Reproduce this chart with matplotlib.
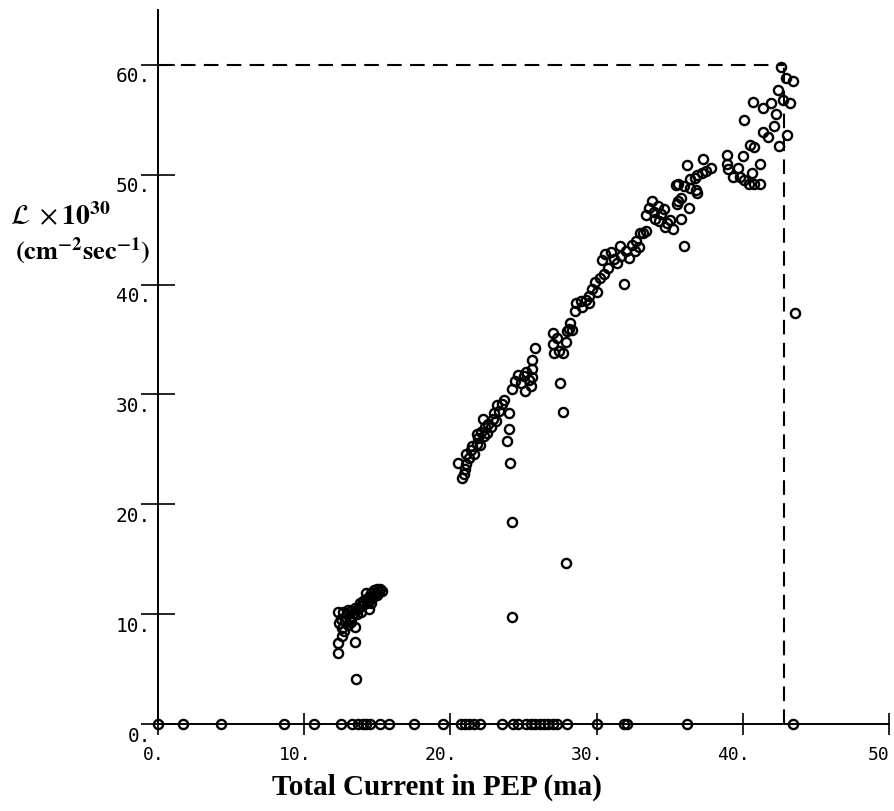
import matplotlib
matplotlib.use("Agg")
import matplotlib.pyplot as plt
import matplotlib.transforms as mtransforms

plt.rcParams['mathtext.fontset'] = 'stix'

# run at ~13-15 ma
low_x = [12.3, 12.65, 12.4, 12.6, 12.5, 12.8, 12.9, 13.0, 13.1, 13.2, 12.7, 13.0, 13.3, 13.4, 13.5,
         13.6, 13.7, 13.8, 13.9, 14.0, 14.1, 14.2, 14.3, 14.4, 14.5, 14.6, 14.7, 14.8, 14.9, 15.0,
         15.1, 15.2, 15.3, 13.5, 12.6, 12.3, 13.5, 12.3, 13.55, 14.2, 14.4, 13.2, 13.9, 14.6, 15.0]
low_y = [10.2, 10.2, 9.2, 8.7, 9.6, 9.4, 10.0, 9.0, 9.6, 10.3, 8.5, 10.4, 9.8, 10.1, 10.6,
         10.0, 10.5, 11.0, 10.7, 11.2, 10.9, 11.4, 11.0, 11.6, 11.3, 11.9, 11.6, 12.2, 11.9, 12.3,
         12.0, 12.3, 12.1, 8.8, 8.0, 7.4, 7.5, 6.5, 4.1, 11.9, 10.5, 9.3, 10.2, 11.0, 11.7]

# run at ~20-30 ma
mid_x = [20.5, 20.8, 20.9, 21.0, 21.1, 21.1, 21.3, 21.4, 21.5, 21.6, 21.8, 21.9, 22.0, 21.8, 22.1,
         22.2, 22.3, 22.4, 22.5, 22.6, 22.8, 22.9, 23.0, 23.1, 23.2, 23.3, 23.5, 23.7, 24.0, 24.0,
         23.9, 24.1, 24.2, 24.2, 24.2, 24.4, 24.6, 24.8, 25.0, 25.1, 25.2, 25.4, 25.6, 25.5, 25.6,
         25.6, 25.8, 27.0, 27.0, 27.1, 27.3, 27.4, 27.7, 27.5, 27.7, 27.9, 27.9, 28.0, 28.1, 28.2,
         28.3, 28.5, 28.6, 28.9, 29.0, 29.3, 29.5, 29.5, 29.7, 29.9, 30.0, 30.2]
mid_y = [23.8, 22.4, 22.8, 23.2, 24.6, 23.7, 24.2, 24.9, 25.3, 24.6, 25.5, 26.0, 25.4, 26.4, 26.6,
         27.8, 26.2, 27.0, 26.5, 27.3, 27.0, 27.8, 28.3, 27.6, 29.0, 28.5, 29.1, 29.5, 28.3, 26.9,
         25.8, 23.8, 18.4, 9.7, 30.5, 31.2, 31.8, 31.0, 31.7, 30.3, 32.0, 31.3, 31.6, 30.8, 33.1,
         32.3, 34.2, 35.6, 34.6, 33.8, 35.1, 34.0, 33.8, 31.0, 28.4, 14.7, 34.8, 35.8, 36.0, 36.5,
         35.9, 37.6, 38.3, 38.5, 38.0, 38.6, 38.3, 39.0, 39.6, 40.2, 39.3, 40.6]

# run at ~30-44 ma
high_x = [30.4, 30.5, 30.6, 30.8, 31.0, 31.2, 31.4, 31.6, 31.7, 31.9, 32.0, 32.2, 32.4, 32.6, 32.7,
          32.9, 33.0, 33.2, 33.4, 33.4, 33.6, 33.8, 33.9, 34.0, 34.2, 34.3, 34.4, 34.6, 34.7, 34.8,
          35.0, 35.2, 35.4, 35.5, 35.6, 35.6, 35.8, 35.8, 36.0, 36.0, 36.2, 36.3, 36.4, 36.4, 36.7,
          36.8, 36.9, 36.9, 37.2, 37.3, 37.5, 37.8, 38.9, 38.9, 39.0, 39.3, 39.7, 39.8, 40.0, 40.1,
          40.1, 40.4, 40.5, 40.6, 40.7, 40.8, 40.8, 41.2, 41.2, 41.4, 41.4, 41.7, 41.9, 42.1, 42.3,
          42.4, 42.5, 42.6, 42.75, 42.95, 43.0, 43.2, 43.4, 43.6]
high_y = [42.2, 41.0, 42.8, 41.5, 43.0, 42.3, 42.0, 43.5, 42.6, 40.1, 43.1, 42.4, 43.6, 43.1, 44.0,
          43.4, 44.7, 44.7, 44.9, 46.3, 47.0, 47.6, 46.6, 46.0, 47.2, 45.8, 46.4, 46.9, 45.2, 45.6,
          45.9, 45.1, 49.1, 47.3, 49.2, 47.6, 47.9, 46.0, 49.0, 43.5, 50.9, 47.0, 49.6, 48.8, 49.7,
          48.6, 50.0, 48.3, 50.2, 51.4, 50.3, 50.6, 51.8, 51.0, 50.5, 49.8, 50.6, 49.8, 51.7, 55.0,
          49.5, 49.2, 52.7, 50.2, 56.6, 52.5, 49.2, 51.0, 49.2, 56.1, 53.9, 53.4, 56.5, 54.4, 55.5,
          57.7, 52.6, 59.8, 56.8, 58.8, 53.6, 56.5, 58.5, 37.4]

# readings with zero luminosity
zero_x = [0, 1.7, 4.3, 8.6, 10.7, 12.5, 13.3, 13.7, 14.0, 14.2, 14.5, 15.2, 15.8, 17.5, 19.5,
          20.7, 21.0, 21.3, 21.6, 22.0, 23.5, 24.3, 24.6, 25.2, 25.5, 25.8, 26.1, 26.4, 26.7,
          27.0, 27.3, 28.0, 30.0, 31.9, 32.1, 36.2, 43.4]

peak_current = 42.8
peak_lumi = 60

x_ticks = [0, 10, 20, 30, 40, 50]
x_labels = ["0.", "10.", "20.", "30.", "40.", "50"]
y_ticks = [0, 10, 20, 30, 40, 50, 60]
y_labels = ["0.", "10.", "20.", "30.", "40.", "50.", "60."]

fig = plt.figure(figsize=(8.94, 8.11), dpi=100)
ax = fig.add_axes([158 / 894, 87 / 811, 731 / 894, 714 / 811])
ax.set_xlim(0, 50)
ax.set_ylim(0, 65)

for s in ['top', 'right']:
    ax.spines[s].set_visible(False)
for s in ['left', 'bottom']:
    ax.spines[s].set_linewidth(1.4)

style = dict(ls='none', marker='o', ms=6.6, mfc='none', mec='black', mew=1.7, clip_on=False)
ax.plot(low_x, low_y, **style)
ax.plot(mid_x, mid_y, **style)
ax.plot(high_x, high_y, **style)
ax.plot(zero_x, [0] * len(zero_x), **style)

ax.hlines(peak_lumi, 0, peak_current, colors='black', linewidth=1.5, linestyles=(0, (7, 4)))
ax.vlines(peak_current, 0, peak_lumi, colors='black', linewidth=1.5, linestyles=(0, (7, 4)))

ax.set_xticks(x_ticks)
ax.set_xticklabels(x_labels, family='DejaVu Sans Mono', fontsize=13, ha='right')
ax.set_yticks(y_ticks)
ax.set_yticklabels(y_labels, family='DejaVu Sans Mono', fontsize=14)
ax.tick_params(axis='x', direction='inout', length=16, width=1.2, pad=8)
ax.tick_params(axis='y', direction='inout', length=24, width=1.2, pad=-7)

# labels hang right of / below their ticks, as on the plotter
dx = mtransforms.ScaledTranslation(0.07, 0, fig.dpi_scale_trans)
for lab in ax.get_xticklabels()[:-1]:
    lab.set_transform(lab.get_transform() + dx)
dy = mtransforms.ScaledTranslation(0, -0.10, fig.dpi_scale_trans)
for lab in ax.get_yticklabels():
    lab.set_transform(lab.get_transform() + dy)

fig.text(437 / 894, 1 - 795 / 811, "Total Current in PEP (ma)", family='Liberation Serif',
         weight='bold', fontsize=21, ha='center', va='baseline')
fig.text(10 / 894, 1 - 225 / 811, r'$\mathcal{L}\ \times\mathbf{10^{30}}$', fontsize=20,
         ha='left', va='baseline')
fig.text(15 / 894, 1 - 260 / 811, r'$\mathbf{(cm^{-2}sec^{-1})}$', fontsize=19,
         ha='left', va='baseline')

fig.savefig('out.png', dpi=100)
